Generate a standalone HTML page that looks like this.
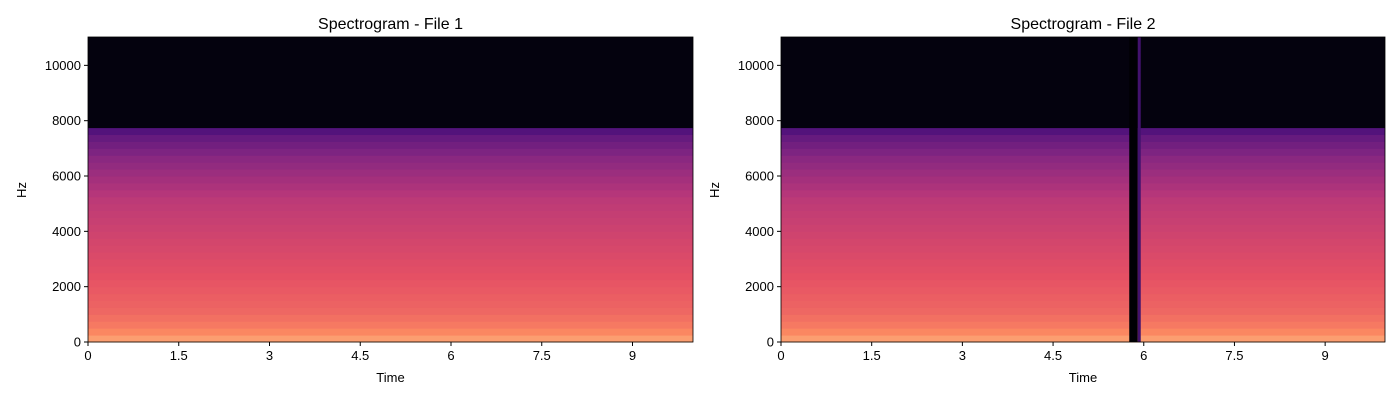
<!DOCTYPE html>
<html><head><meta charset="utf-8"><style>
body{margin:0;background:#fff;}
svg text{font-family:"Liberation Sans",sans-serif;fill:#000;}
</style></head><body>
<svg id="chart" width="1400" height="400"></svg>
<script>
// frequency band levels (magma scale 0..1), 250 Hz bands from 0 to 11250
const bandLevels=[0.80,0.75,0.72,0.70,0.68,0.67,0.66,0.65,0.64,0.63,0.62,0.61,0.60,0.59,0.58,0.57,0.56,0.55,0.54,0.53,0.52,0.50,0.48,0.46,0.44,0.42,0.40,0.37,0.34,0.31,0.26,0.02,0.02,0.02,0.02,0.02,0.02,0.02,0.02,0.02,0.02,0.02,0.02,0.02,0.02];
const bandWidthHz=250;
const yTicks=[0,2000,4000,6000,8000,10000];
const xTicks=[0,1.5,3,4.5,6,7.5,9];
const xTickLabels=["0","1.5","3","4.5","6","7.5","9"];
// file 2 gap segments: start (s), end (s), level
const gapStart=[5.76,5.90];
const gapEnd=[5.90,5.95];
const gapLevel=[0.0,0.22];
const maxHz=11025, duration=[10.0,9.99];

const magma=[[0,"#000004"],[0.13,"#1c1044"],[0.25,"#4f127b"],[0.38,"#812581"],[0.5,"#b5367a"],[0.63,"#e55064"],[0.75,"#fb8761"],[0.88,"#fec287"],[1,"#fcfdbf"]];
function hex(c){return [1,3,5].map(i=>parseInt(c.substr(i,2),16));}
function cmap(v){v=Math.max(0,Math.min(1,v));for(let i=1;i<magma.length;i++){if(v<=magma[i][0]){const a=magma[i-1],b=magma[i];const t=(v-a[0])/(b[0]-a[0]);const ca=hex(a[1]),cb=hex(b[1]);return "rgb("+ca.map((x,k)=>Math.round(x+(cb[k]-x)*t)).join(",")+")";}}return magma[8][1];}
const svg=document.getElementById('chart');const NS="http://www.w3.org/2000/svg";
function mk(t,a,p){const e=document.createElementNS(NS,t);for(const k in a)e.setAttribute(k,a[k]);(p||svg).appendChild(e);return e;}
const panels=[{x0:88,x1:693,title:"Spectrogram - File 1"},{x0:781,x1:1385,title:"Spectrogram - File 2"}];
const yTop=37,yBot=342;
panels.forEach((p,pi)=>{
  const g=mk('g',{});
  
  
  const sx=t=>p.x0+t/duration[pi]*(p.x1-p.x0);
  const sy=hz=>yBot-hz/maxHz*(yBot-yTop);
  bandLevels.forEach((v,i)=>{
    const lo=i*bandWidthHz,hi=Math.min(maxHz,(i+1)*bandWidthHz);
    if(lo>=maxHz)return;
    const r=mk('rect',{x:p.x0,y:sy(hi),width:p.x1-p.x0,height:sy(lo)-sy(hi)+0.5,fill:cmap(v)},g);
    
    
  });
  if(pi===1){
    gapStart.forEach((s,i)=>{
      const r=mk('rect',{x:sx(s),y:yTop,width:sx(gapEnd[i])-sx(s),height:yBot-yTop,fill:cmap(gapLevel[i])},g);
      
      
    });
  }
  mk('rect',{x:p.x0,y:yTop,width:p.x1-p.x0,height:yBot-yTop,fill:'none',stroke:'#000','stroke-width':0.8},g);
  const t=mk('text',{x:(p.x0+p.x1)/2,y:29,'text-anchor':'middle','font-size':16},g);t.textContent=p.title;
  
  yTicks.forEach(v=>{const y=sy(v);mk('line',{x1:p.x0-4,x2:p.x0,y1:y,y2:y,stroke:'#000'},g);
    const l=mk('text',{x:p.x0-7,y:y+4.5,'text-anchor':'end','font-size':13},g);l.textContent=v;
    });
  xTicks.forEach((v,i)=>{const x=sx(v);mk('line',{x1:x,x2:x,y1:yBot,y2:yBot+4,stroke:'#000'},g);
    const l=mk('text',{x:x,y:yBot+18,'text-anchor':'middle','font-size':13},g);l.textContent=xTickLabels[i];
    });
  const xl=mk('text',{x:(p.x0+p.x1)/2,y:382,'text-anchor':'middle','font-size':13},g);xl.textContent='Time';
  
  const yl=mk('text',{x:0,y:0,'text-anchor':'middle','font-size':13,transform:`translate(${p.x0-62},190) rotate(-90)`},g);yl.textContent='Hz';
  
});
</script>
</body></html>
